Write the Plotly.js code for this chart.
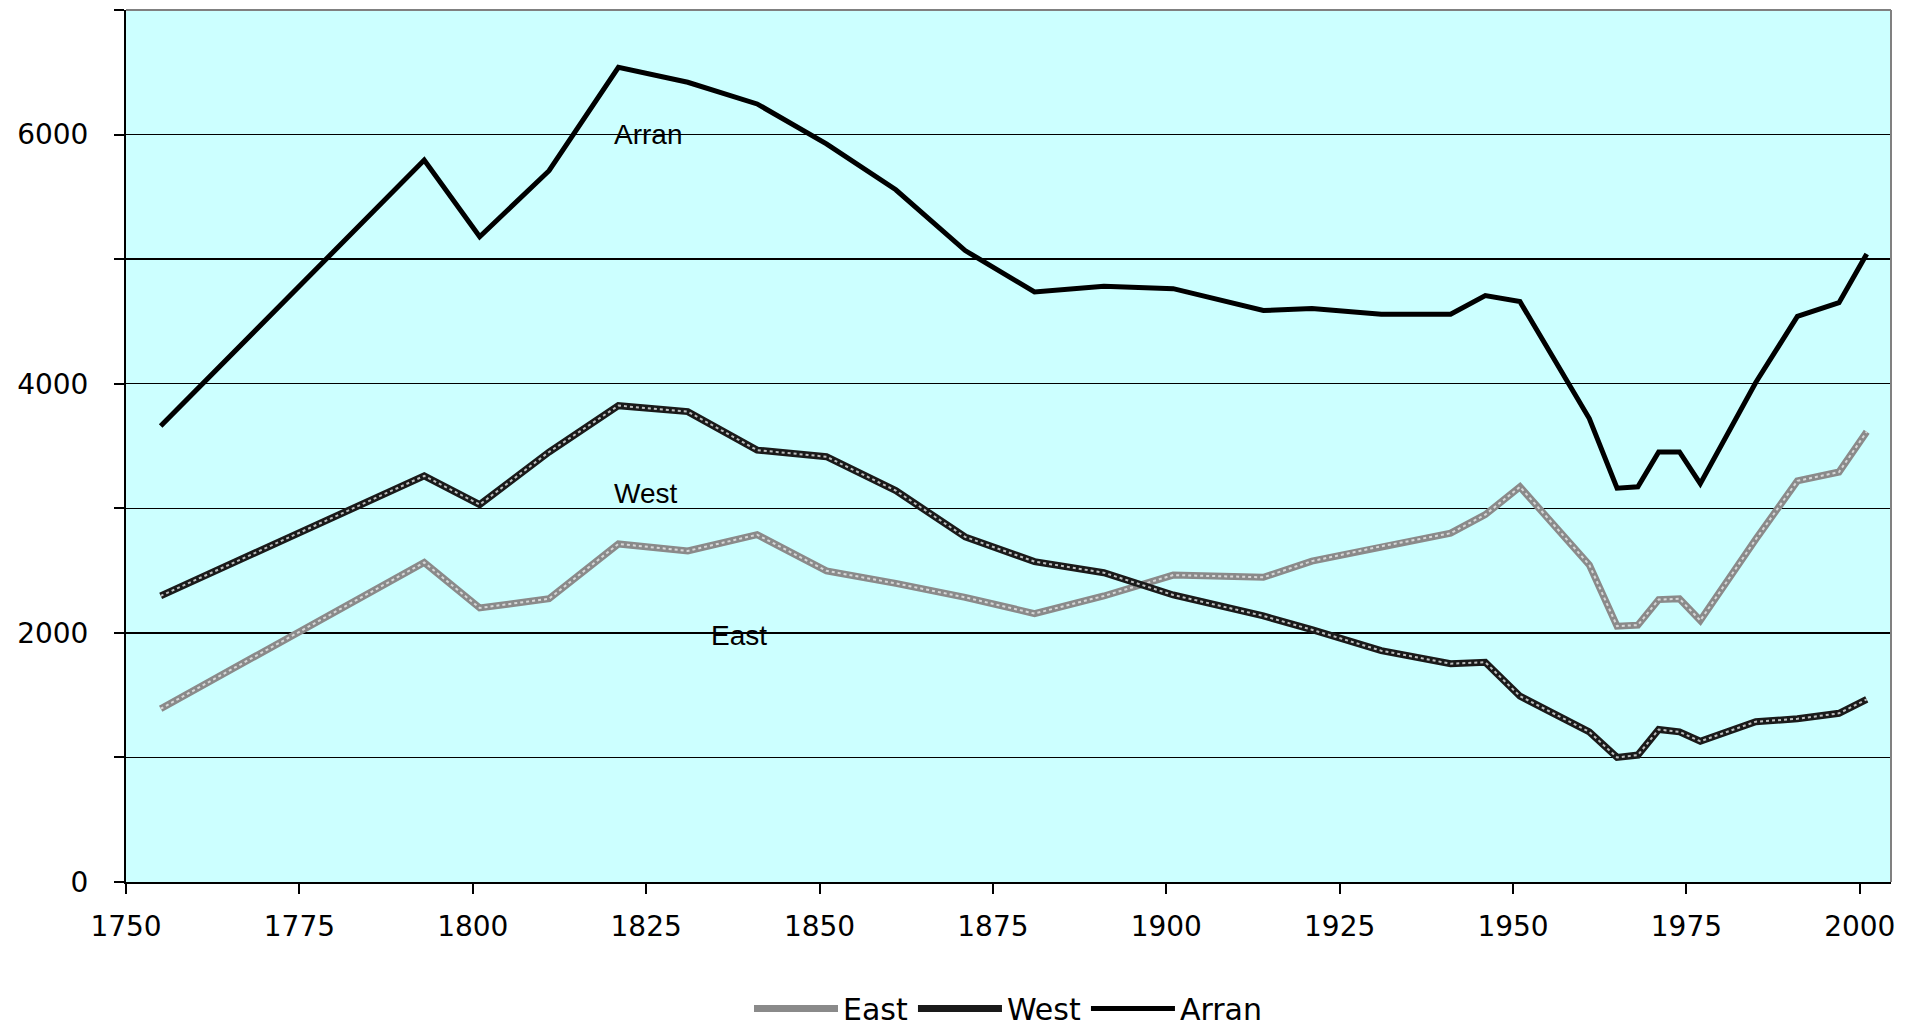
<!DOCTYPE html>
<html>
<head>
<meta charset="utf-8">
<script src="https://cdn.plot.ly/plotly-3.0.1.min.js"></script>
<style>
  html, body { margin: 0; padding: 0; background: #ffffff; }
  #chart { width: 1912px; height: 1026px; }
</style>
</head>
<body>
<div id="chart"></div>
<script>
// ---- Data ----
const years = [1755, 1793, 1801, 1811, 1821, 1831, 1841, 1851, 1861, 1871, 1881, 1891, 1901, 1914, 1921, 1931, 1941, 1946, 1951, 1961, 1965, 1968, 1971, 1974, 1977, 1985, 1991, 1997, 2001];
const east  = [1391, 2565, 2200, 2274, 2714, 2658, 2788, 2498, 2397, 2285, 2155, 2296, 2464, 2446, 2576, 2695, 2800, 2949, 3172, 2546, 2054, 2062, 2267, 2274, 2099, 2751, 3220, 3291, 3615];
const west  = [2297, 3260, 3030, 3452, 3824, 3776, 3467, 3414, 3142, 2770, 2572, 2483, 2304, 2136, 2025, 1857, 1753, 1764, 1492, 1205, 1000, 1019, 1224, 1205, 1130, 1287, 1310, 1354, 1466];
const arran = [3660, 5795, 5180, 5710, 6540, 6420, 6246, 5925, 5557, 5069, 4737, 4782, 4763, 4588, 4603, 4558, 4558, 4707, 4659, 3720, 3161, 3172, 3452, 3452, 3198, 4010, 4540, 4651, 5042];

const seriesNames = ['East', 'West', 'Arran'];
const yTickVals = [0, 1000, 2000, 3000, 4000, 5000, 6000, 7000];
const yTickText = ['0', '', '2000', '', '4000', '', '6000', ''];
const xTickVals = [1750, 1775, 1800, 1825, 1850, 1875, 1900, 1925, 1950, 1975, 2000];
const labelText = ['East', 'West', 'Arran'];
const labelX = [1838.4, 1824.9, 1825.3];
const labelY = [1979, 3118, 5997];

const tickFont = { family: '"Comic Sans MS", "DejaVu Sans", sans-serif', size: 28, color: '#000000' };

const traces = [
  // East: grey patterned line (base + light dotted overlay)
  { x: years, y: east, mode: 'lines', name: seriesNames[0], legendgroup: 'e',
    line: { color: '#8a8a8a', width: 7 } },
  { x: years, y: east, mode: 'lines', name: seriesNames[0], legendgroup: 'e', showlegend: false, hoverinfo: 'skip',
    line: { color: '#d6d6d6', width: 2, dash: 'dot' } },
  // West: dark patterned line (base + light dotted overlay)
  { x: years, y: west, mode: 'lines', name: seriesNames[1], legendgroup: 'w',
    line: { color: '#1a1a1a', width: 7 } },
  { x: years, y: west, mode: 'lines', name: seriesNames[1], legendgroup: 'w', showlegend: false, hoverinfo: 'skip',
    line: { color: '#bdbdbd', width: 2, dash: 'dot' } },
  // Arran: solid black
  { x: years, y: arran, mode: 'lines', name: seriesNames[2], legendgroup: 'a',
    line: { color: '#000000', width: 5 } }
];

const annotations = labelText.map((t, i) => ({
  x: labelX[i], y: labelY[i], xref: 'x', yref: 'y', text: t, showarrow: false,
  font: { family: '"Liberation Sans", Arial, sans-serif', size: 28, color: '#000000' },
  xanchor: 'center', yanchor: 'middle'
}));

const layout = {
  width: 1912, height: 1026,
  margin: { l: 126, r: 21, t: 10, b: 144, pad: 0, autoexpand: false },
  paper_bgcolor: '#ffffff',
  plot_bgcolor: '#ccffff',
  showlegend: true,
  legend: {
    orientation: 'h', x: 0.5, xanchor: 'center', y: -0.145, yanchor: 'middle',
    font: { family: '"Comic Sans MS", "DejaVu Sans", sans-serif', size: 30, color: '#000000' },
    itemwidth: 84, traceorder: 'normal', bgcolor: 'rgba(0,0,0,0)'
  },
  xaxis: {
    range: [1750, 2004.5], tickmode: 'array', tickvals: xTickVals,
    ticks: 'outside', ticklen: 10, tickwidth: 2, tickcolor: '#000000',
    showgrid: false, zeroline: false,
    showline: true, linecolor: '#000000', linewidth: 2,
    tickfont: tickFont, ticklabelstandoff: 8
  },
  yaxis: {
    range: [0, 7000], tickmode: 'array', tickvals: yTickVals, ticktext: yTickText,
    ticks: 'outside', ticklen: 10, tickwidth: 2, tickcolor: '#000000',
    showgrid: true, gridcolor: '#000000', gridwidth: 1.5, zeroline: false,
    showline: true, linecolor: '#000000', linewidth: 2,
    tickfont: tickFont, ticklabelstandoff: 20
  },
  annotations: annotations,
  shapes: [
    { type: 'line', xref: 'paper', yref: 'paper', x0: 0, x1: 1, y0: 1, y1: 1, line: { color: '#808080', width: 2 } },
    { type: 'line', xref: 'paper', yref: 'paper', x0: 1, x1: 1, y0: 0, y1: 1, line: { color: '#808080', width: 2 } }
  ]
};

Plotly.newPlot('chart', traces, layout, { displayModeBar: false, staticPlot: true });
</script>
</body>
</html>
